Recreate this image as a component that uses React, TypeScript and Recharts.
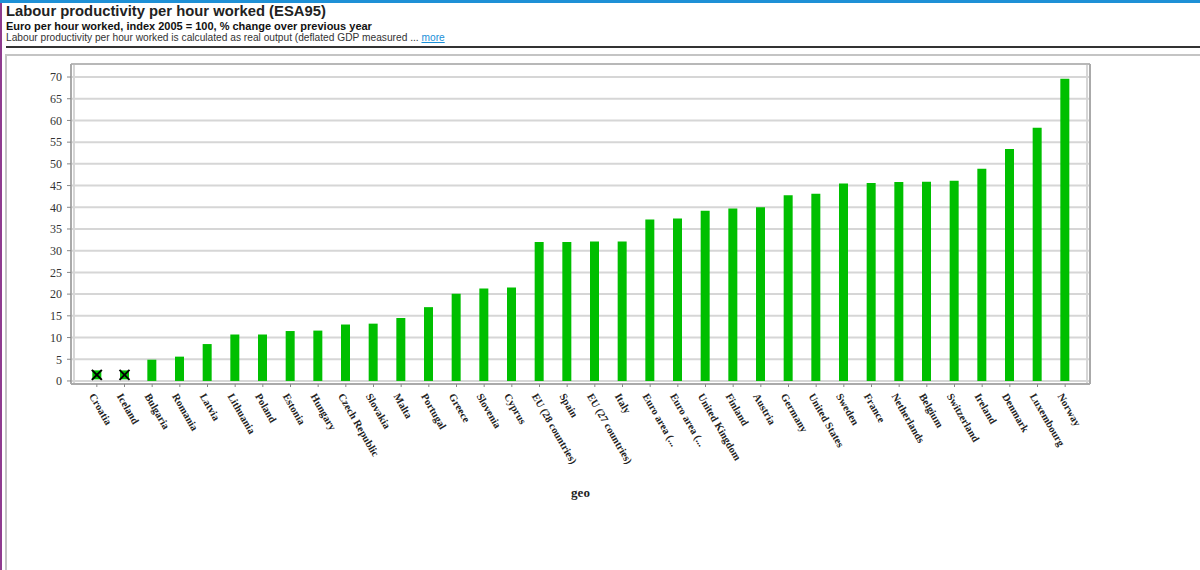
import React from "react";
import {
  ComposedChart,
  Bar,
  Scatter,
  XAxis,
  YAxis,
  CartesianGrid,
  ReferenceLine,
  Label,
} from "recharts";

const countries = [
  "Croatia",
  "Iceland",
  "Bulgaria",
  "Romania",
  "Latvia",
  "Lithuania",
  "Poland",
  "Estonia",
  "Hungary",
  "Czech Republic",
  "Slovakia",
  "Malta",
  "Portugal",
  "Greece",
  "Slovenia",
  "Cyprus",
  "EU (28 countries)",
  "Spain",
  "EU (27 countries)",
  "Italy",
  "Euro area (...",
  "Euro area (...",
  "United Kingdom",
  "Finland",
  "Austria",
  "Germany",
  "United States",
  "Sweden",
  "France",
  "Netherlands",
  "Belgium",
  "Switzerland",
  "Ireland",
  "Denmark",
  "Luxembourg",
  "Norway",
];

// null = not available (drawn as a cross marker)
const productivity = [
  null, null, 4.9, 5.6, 8.5, 10.7, 10.7, 11.5, 11.6, 13.0, 13.2, 14.5, 17.0,
  20.1, 21.3, 21.5, 32.0, 32.0, 32.1, 32.1, 37.2, 37.4, 39.2, 39.7, 40.0, 42.8,
  43.1, 45.5, 45.6, 45.8, 45.9, 46.1, 48.9, 53.4, 58.3, 69.6,
];

const yTicks = [0, 5, 10, 15, 20, 25, 30, 35, 40, 45, 50, 55, 60, 65, 70];
const missingLevel = 1.4;

const data = countries.map((name, i) => ({
  key: i,
  name,
  value: productivity[i],
  missing: productivity[i] == null ? missingLevel : null,
}));

const serif = "'Liberation Serif', 'Times New Roman', serif";
const sans = "'Liberation Sans', Arial, sans-serif";

const XTick = (props: any) => {
  const { x, y, payload } = props;
  const px = x - 8;
  const py = y + 7;
  return (
    <text
      x={px}
      y={py}
      transform={`rotate(60, ${px}, ${py})`}
      textAnchor="start"
      fontFamily={serif}
      fontSize={10.6}
      fontWeight="bold"
      fill="#222">
      {countries[payload.value]}
    </text>
  );
};

const CrossMarker = (props: any) => {
  const { cx, cy } = props;
  if (!Number.isFinite(cx) || !Number.isFinite(cy)) return null;
  return (
    <g>
      <rect x={cx - 4.5} y={cy - 4.5} width={9} height={9} fill="#00c000" />
      <line x1={cx - 5} y1={cy - 5} x2={cx + 5} y2={cy + 5} stroke="#000" strokeWidth={2} />
      <line x1={cx - 5} y1={cy + 5} x2={cx + 5} y2={cy - 5} stroke="#000" strokeWidth={2} />
    </g>
  );
};

export default function App() {
  return (
    <div
      style={{
        position: "absolute",
        left: 0,
        top: 0,
        width: 1200,
        height: 570,
        overflow: "hidden",
        background: "#fff",
        fontFamily: sans,
      }}>
      <div style={{ position: "absolute", left: 0, top: 0, width: 1200, height: 3, background: "#1e90d6" }} />
      <div style={{ position: "absolute", left: 0, top: 3, width: 2, height: 567, background: "#8e3b8e" }} />
      <div style={{ position: "absolute", left: 6, top: 3, fontSize: 14.8, fontWeight: "bold", color: "#222", whiteSpace: "nowrap" }}>
        Labour productivity per hour worked (ESA95)
      </div>
      <div style={{ position: "absolute", left: 6, top: 20, fontSize: 11, fontWeight: "bold", color: "#111", whiteSpace: "nowrap" }}>
        Euro per hour worked, index 2005 = 100, % change over previous year
      </div>
      <div style={{ position: "absolute", left: 6, top: 32, fontSize: 10.2, color: "#333", whiteSpace: "nowrap" }}>
        Labour productivity per hour worked is calculated as real output (deflated GDP measured ...{" "}
        <span style={{ color: "#1a8fd8", textDecoration: "underline" }}>more</span>
      </div>
      <div style={{ position: "absolute", left: 6, top: 46, width: 1194, height: 2, background: "#333" }} />
      <div
        style={{
          position: "absolute",
          left: 5,
          top: 54,
          width: 1200,
          height: 530,
          border: "2px solid #c4c4c4",
          boxSizing: "border-box",
        }}
      />
      <div style={{ position: "absolute", left: 0, top: 55 }}>
        <ComposedChart
          width={1200}
          height={515}
          data={data}
          margin={{ top: 9, right: 50, left: 0, bottom: 0 }}>
          <CartesianGrid
            yAxisId="left"
            stroke="#d6d6d6"
            strokeWidth={2}
            vertical={true}
            verticalCoordinatesGenerator={(p: any) => [
              p.offset.left + 3,
              p.offset.left + p.offset.width - 3,
            ]}
          />
          <ReferenceLine yAxisId="left" y={73} stroke="#b8b8b8" strokeWidth={2} />
          <XAxis
            dataKey="key"
            type="category"
            interval={0}
            height={186}
            padding={{ left: 12, right: 11 }}
            tick={<XTick />}
            tickSize={3}
            tickLine={{ stroke: "#888" }}
            axisLine={{ stroke: "#aaa", strokeWidth: 2 }}>
            <Label
              value="geo"
              position="insideBottom"
              offset={73}
              style={{ fontFamily: serif, fontSize: 13, fontWeight: "bold", fill: "#222" }}
            />
          </XAxis>
          <YAxis
            yAxisId="left"
            width={71}
            domain={[-0.7, 73]}
            ticks={yTicks}
            interval={0}
            tickSize={4}
            tickMargin={5}
            tick={{ fontFamily: serif, fontSize: 12, fill: "#333" }}
            tickLine={{ stroke: "#888" }}
            axisLine={{ stroke: "#aaa", strokeWidth: 2 }}
          />
          <YAxis
            yAxisId="right"
            orientation="right"
            width={60}
            domain={[-0.7, 73]}
            ticks={yTicks}
            interval={0}
            tickSize={4}
            tickMargin={3}
            tick={{ fontFamily: serif, fontSize: 12, fill: "#333", textAnchor: "start" }}
            tickLine={{ stroke: "#888" }}
            axisLine={{ stroke: "#aaa", strokeWidth: 2 }}
          />
          <Bar
            yAxisId="left"
            dataKey="value"
            barSize={9}
            fill="#00bf00"
            isAnimationActive={false}
          />
          <Scatter
            yAxisId="left"
            dataKey="missing"
            shape={<CrossMarker />}
            isAnimationActive={false}
          />
        </ComposedChart>
      </div>
    </div>
  );
}
